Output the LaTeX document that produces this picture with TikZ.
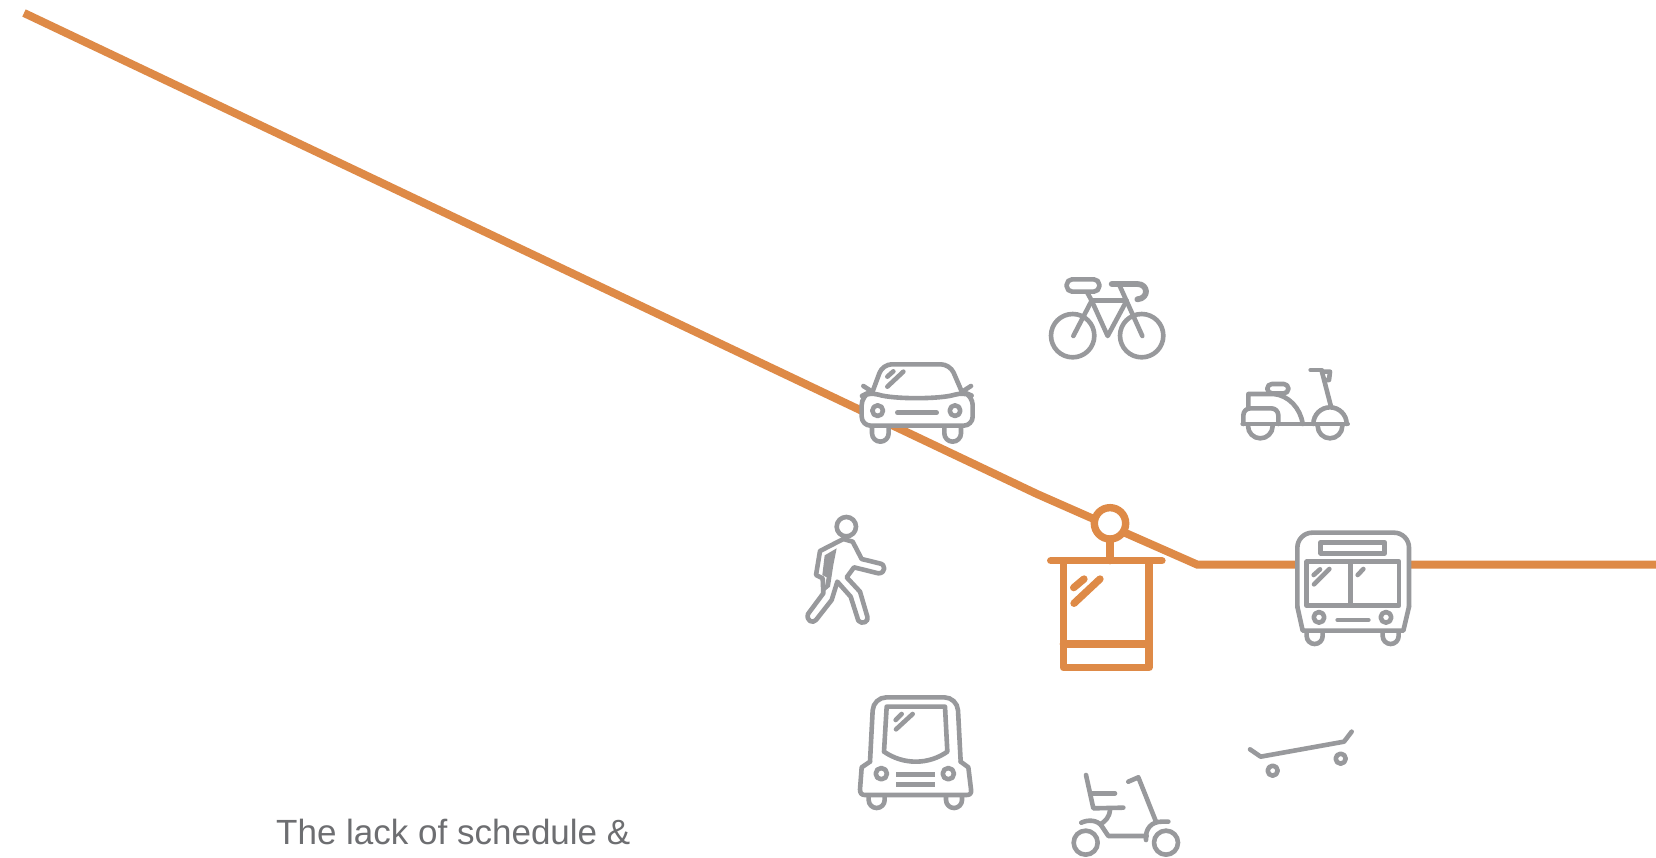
\documentclass[tikz,border=0pt]{standalone}
\usepackage{fontspec}
\setmainfont{Liberation Sans}
\definecolor{iconGrey}{HTML}{98999C}
\definecolor{routeOrange}{HTML}{DE8A47}
\definecolor{textGrey}{HTML}{6D6E71}
\tikzset{
  icon/.style={draw=iconGrey,line width=4.6pt,line cap=round,line join=round},
  iconfill/.style={icon,fill=white},
  cable/.style={draw=routeOrange,line width=8pt,line join=miter},
  cabin/.style={draw=routeOrange,line width=7.3pt,line cap=round,line join=round},
  zoomed/.style={shift={(#1)},scale=1/3}
}
% #1 centre x, #2 top y, #3 arc centre y, #4 radius
\newcommand{\uwheel}[4]{\draw[iconfill] ({#1-#4},#2) -- ({#1-#4},#3) arc (180:0:#4) -- ({#1+#4},#2);}
\begin{document}
\begin{tikzpicture}[x=1pt,y=-1pt]
\path[use as bounding box] (0,0) rectangle (1656,858);
\fill[white] (0,0) rectangle (1656,858);

% route
\coordinate (routeStart) at (24,13);
\coordinate (routeBend) at (1037,494);
\coordinate (routeKink) at (1197,564.5);
\coordinate (routeEnd) at (1656,564.5);
\draw[cable] (routeStart) -- (routeBend) -- (routeKink) -- (routeEnd);

% gondola
\begin{scope}[zoomed={780,490}]
  \draw[cabin] (990,155) -- (990,212);
  \draw[cabin] (812,212) -- (1146,212);
  \draw[cabin] (850,212) -- (850,533) -- (1107,533) -- (1107,212);
  \draw[cabin] (850,462) -- (1107,462);
  \draw[cabin] (881,293) -- (912,267);
  \draw[cabin] (882,340) -- (960,267);
  \draw[draw=routeOrange,line width=7.4pt,fill=white] (990,100) circle (47);
\end{scope}

% car
\begin{scope}[zoomed={780,260}]
  \uwheel{301}{495}{520}{25}
  \uwheel{518}{495}{520}{25}
  \draw[iconfill,rounded corners=9pt] (245,497) -- (245,408) -- (270,396) .. controls (340,418) and (480,418) .. (550,396) -- (578,408) -- (578,497) -- cycle;
  \draw[icon] (250,378) -- (278,396);
  \draw[icon] (573,378) -- (545,396);
  \draw[icon,rounded corners=9pt] (278,394) -- (308,313) -- (510,313) -- (545,394);
  \draw[icon] (293,452) circle (16);
  \draw[icon] (525,452) circle (16);
  \draw[icon] (352,458) -- (470,458);
  \draw[icon] (322,350) -- (340,334);
  \draw[icon] (322,380) -- (370,335);
\end{scope}

% bicycle
\begin{scope}[zoomed={780,260}]
  \draw[icon] (878,227) circle (65);
  \draw[icon] (1085,227) circle (65);
  \draw[icon,rounded corners=5.5pt] (860,58) rectangle (958,95);
  \draw[icon] (922,98) -- (935,122) -- (880,228);
  \draw[icon] (935,122) -- (1032,122);
  \draw[icon] (935,122) -- (983,228) -- (1040,122);
  \draw[icon] (1018,75) -- (1087,228);
  \draw[icon,line width=5.8pt] (995,72) -- (1072,72) .. controls (1105,72) and (1108,115) .. (1072,118);
\end{scope}

% moped
\begin{scope}[zoomed={1180,350}]
  \draw[icon] (204,228) arc (180:0:37);
  \draw[icon] (413,228) arc (180:0:37);
  \draw[icon,rounded corners=7pt] (190,222) -- (190,175) -- (295,175) -- (295,222);
  \draw[icon] (188,222) -- (503,222);
  \draw[icon] (205,175) -- (205,132) -- (280,132) .. controls (325,135) and (362,175) .. (368,222);
  \draw[iconfill,rounded corners=4.5pt] (262,102) rectangle (325,130);
  \draw[icon] (400,222) arc (180:360:50);
  \draw[icon] (453,170) -- (425,62);
  \draw[icon] (392,60) -- (425,60);
  \draw[icon] (433,65) -- (450,65) -- (447,90) -- (437,90);
\end{scope}

% bus
\begin{scope}[zoomed={1180,350}]
  \uwheel{404}{840}{858}{24}
  \uwheel{632}{840}{858}{24}
  \path[fill=white] (352,600) -- (352,770) -- (368,842) -- (670,842) -- (687,770) -- (687,600) -- cycle;
  \draw[iconfill,rounded corners=15pt] (352,770) -- (352,548) -- (687,548) -- (687,770);
  \draw[icon] (352,770) -- (368,842) -- (670,842) -- (687,770);
  \draw[icon] (422,577) rectangle (614,610);
  \draw[icon] (380,635) rectangle (657,767);
  \draw[icon] (511,635) -- (511,767);
  \draw[icon] (401,675) -- (420,658);
  \draw[icon] (402,703) -- (448,657);
  \draw[icon] (533,675) -- (550,657);
  \draw[icon] (417,802) circle (16);
  \draw[icon] (618,802) circle (16);
  \draw[icon] (473,810) -- (565,810);
\end{scope}

% pedestrian
\begin{scope}[zoomed={780,490}]
  \draw[icon] (199,110) circle (29);
  \fill[iconGrey] (170,175) -- (134,196) -- (127,255) -- (140,262) -- (132,305) -- (150,290) -- (160,225) -- cycle;
  \draw[icon] (190,147) -- (120,183) -- (108,255) -- (128,265) -- (130,310) -- (84,372)
    .. controls (78,392) and (98,402) .. (108,390) -- (155,330) -- (172,275) -- (212,320) -- (235,392)
    .. controls (245,405) and (268,395) .. (262,380) -- (240,305) -- (200,262) -- (222,232) -- (295,250)
    .. controls (318,250) and (318,222) .. (298,220) -- (245,207) -- (218,155) -- cycle;
\end{scope}

% shuttle
\begin{scope}[zoomed={840,680}]
  \uwheel{110}{345}{360}{24}
  \uwheel{342}{345}{360}{24}
  \path[fill=white] (90,245) -- (65,262) -- (60,345) -- (395,345) -- (385,262) -- (362,245) -- cycle;
  \draw[iconfill,rounded corners=13pt] (90,245) -- (100,52) -- (352,52) -- (362,245);
  \draw[icon] (90,245) -- (65,262) -- (60,328) .. controls (60,340) and (65,345) .. (75,345) -- (380,345) .. controls (390,345) and (395,340) .. (393,328) -- (385,262) -- (362,245);
  \draw[icon] (132,215) -- (140,80) -- (315,80) -- (322,215) .. controls (265,255) and (190,255) .. (132,215);
  \draw[icon] (167,120) -- (185,102);
  \draw[icon] (168,148) -- (218,102);
  \draw[icon] (124,281) circle (17);
  \draw[icon] (325,281) circle (17);
  \draw[icon,line cap=butt,line width=5pt] (168,284) -- (285,284);
  \draw[icon,line cap=butt,line width=5pt] (168,312) -- (285,312);
\end{scope}

% mobility scooter
\begin{scope}[zoomed={840,680}]
  \draw[icon] (737,488) circle (36);
  \draw[icon] (978,488) circle (36);
  \draw[icon] (738,285) -- (760,385) -- (850,383);
  \draw[icon] (755,340) -- (825,340);
  \draw[icon] (810,390) .. controls (808,412) and (795,425) .. (782,432);
  \draw[icon] (724,428) .. controls (745,418) and (772,420) .. (785,438) -- (805,468) -- (920,468);
  \draw[icon] (918,480) .. controls (915,445) and (935,425) .. (965,425) -- (985,425);
  \draw[icon] (865,305) -- (895,292) -- (948,425);
\end{scope}

% skateboard
\begin{scope}[zoomed={1230,710}]
  \draw[icon] (60,118) -- (92,140) -- (342,95) -- (365,65);
  \draw[icon] (128,182) circle (15);
  \draw[icon] (332,146) circle (15);
\end{scope}

\node[anchor=base west,inner sep=0pt,text=textGrey,font=\fontsize{35}{42}\selectfont] (caption) at (276,844) {The lack of schedule \&};
\end{tikzpicture}
\end{document}
